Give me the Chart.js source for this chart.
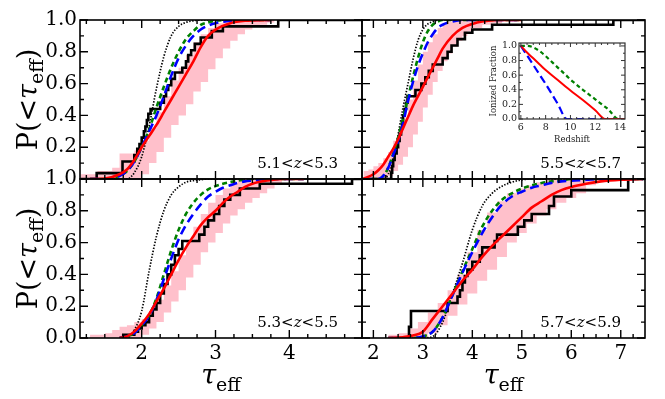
<!DOCTYPE html>
<html>
<head>
<meta charset="utf-8">
<script src="https://cdn.jsdelivr.net/npm/chart.js@4.4.0/dist/chart.umd.min.js"></script>
<style>
  body { margin: 0; background: #fff; }
  #wrap { position: relative; width: 665px; height: 399px; background: #fff; }
  #wrap canvas { position: absolute; left: 0; top: 0; }
</style>
</head>
<body>
<div id="wrap">
  <canvas id="pA" width="665" height="399"></canvas>
  <canvas id="pB" width="665" height="399"></canvas>
  <canvas id="pC" width="665" height="399"></canvas>
  <canvas id="pD" width="665" height="399"></canvas>
  <canvas id="ins" width="665" height="399"></canvas>
</div>
<script>
// ---- 5.1 < z < 5.3 (top left)
const bandTauA = [1.17, 1.4, 1.6, 1.7, 1.8, 1.9, 2.0, 2.1, 2.2, 2.3, 2.4, 2.5, 2.6, 2.7, 2.8, 2.9, 3.0, 3.1, 3.2, 3.3, 3.4, 3.5, 3.6, 3.7, 3.8];
const bandHiA = [0.03, 0.05, 0.07, 0.16, 0.16, 0.18, 0.24, 0.32, 0.42, 0.52, 0.62, 0.7, 0.78, 0.86, 0.91, 0.95, 0.98, 1, 1, 1, 1, 1, 1, 1, 1];
const bandLoA = [0, 0, 0, 0, 0, 0, 0.03, 0.1, 0.17, 0.26, 0.34, 0.4, 0.47, 0.55, 0.61, 0.69, 0.76, 0.82, 0.87, 0.91, 0.94, 0.96, 0.97, 0.985, 1];
const tauA = [1.3, 1.5, 1.7, 1.8, 1.9, 2.0, 2.1, 2.2, 2.3, 2.4, 2.5, 2.6, 2.7, 2.8, 2.9, 3.0, 3.2, 3.4, 3.75];
const redA = [0, 0.003, 0.03, 0.06, 0.12, 0.2, 0.27, 0.34, 0.42, 0.5, 0.58, 0.66, 0.74, 0.83, 0.9, 0.94, 0.98, 0.995, 1];
const blueA = [0, 0, 0.02, 0.05, 0.11, 0.2, 0.3, 0.4, 0.52, 0.65, 0.76, 0.84, 0.9, 0.94, 0.965, 0.98, 0.995, 1, 1];
const greenA = [0, 0, 0.02, 0.05, 0.11, 0.2, 0.31, 0.45, 0.58, 0.7, 0.8, 0.88, 0.93, 0.97, 0.985, 0.995, 1, 1, 1];
const dotA = [0, 0, 0, 0, 0.04, 0.14, 0.33, 0.57, 0.77, 0.9, 0.96, 0.985, 0.995, 1, 1, 1, 1, 1, 1];
const obsTauA = [1.17, 1.39, 1.74, 1.9, 1.94, 1.97, 2.0, 2.03, 2.05, 2.07, 2.09, 2.12, 2.25, 2.3, 2.33, 2.36, 2.4, 2.45, 2.55, 2.6, 2.63, 2.67, 2.72, 2.8, 2.95, 3.1, 3.85, 4.98];
const obsA = [0, 0.037, 0.11, 0.15, 0.19, 0.22, 0.26, 0.3, 0.33, 0.37, 0.41, 0.44, 0.48, 0.52, 0.56, 0.59, 0.63, 0.67, 0.7, 0.74, 0.78, 0.81, 0.85, 0.89, 0.93, 0.96, 1, 1];

// ---- 5.5 < z < 5.7 (top right)
const bandTauB = [1.8, 1.9, 2.0, 2.1, 2.2, 2.3, 2.4, 2.5, 2.6, 2.7, 2.8, 2.9, 3.0, 3.1, 3.2, 3.3, 3.4, 3.5, 3.6, 3.7, 3.8, 3.9, 4.0, 4.2, 4.4, 4.6, 4.9];
const bandHiB = [0.05, 0.06, 0.08, 0.1, 0.13, 0.17, 0.24, 0.3, 0.38, 0.5, 0.62, 0.72, 0.8, 0.86, 0.91, 0.95, 0.97, 0.99, 1, 1, 1, 1, 1, 1, 1, 1, 1];
const bandLoB = [0, 0, 0, 0, 0, 0.02, 0.05, 0.09, 0.14, 0.2, 0.28, 0.36, 0.45, 0.53, 0.61, 0.68, 0.74, 0.79, 0.83, 0.87, 0.9, 0.93, 0.95, 0.97, 0.98, 0.99, 1];
const tauB = [1.8, 2.0, 2.1, 2.2, 2.3, 2.4, 2.5, 2.6, 2.7, 2.8, 2.9, 3.0, 3.1, 3.2, 3.3, 3.4, 3.6, 3.8, 4.0, 4.2, 4.5, 5.0];
const redB = [0, 0.03, 0.055, 0.09, 0.14, 0.19, 0.25, 0.32, 0.39, 0.46, 0.52, 0.58, 0.64, 0.7, 0.76, 0.82, 0.9, 0.95, 0.975, 0.99, 1, 1];
const blueB = [0, 0, 0, 0.02, 0.07, 0.15, 0.24, 0.35, 0.49, 0.61, 0.71, 0.79, 0.86, 0.91, 0.95, 0.97, 0.99, 1, 1, 1, 1, 1];
const greenB = [0, 0, 0, 0.02, 0.07, 0.16, 0.26, 0.38, 0.51, 0.64, 0.76, 0.86, 0.93, 0.97, 0.99, 1, 1, 1, 1, 1, 1, 1];
const dotB = [0, 0, 0, 0, 0.03, 0.12, 0.28, 0.45, 0.6, 0.75, 0.87, 0.94, 0.975, 0.99, 1, 1, 1, 1, 1, 1, 1, 1];
const obsTauB = [1.77, 2.36, 2.38, 2.4, 2.43, 2.47, 2.5, 2.53, 2.56, 2.58, 2.6, 2.63, 2.66, 2.69, 2.85, 2.97, 3.05, 3.12, 3.2, 3.4, 3.5, 3.58, 3.7, 3.85, 4.0, 4.4, 6.85, 7.49];
const obsB = [0, 0.04, 0.08, 0.12, 0.16, 0.2, 0.24, 0.28, 0.32, 0.36, 0.4, 0.44, 0.48, 0.52, 0.56, 0.6, 0.64, 0.68, 0.72, 0.76, 0.8, 0.84, 0.88, 0.92, 0.94, 0.97, 1, 1];

// ---- 5.3 < z < 5.5 (bottom left)
const bandTauC = [1.3, 1.4, 1.5, 1.6, 1.7, 1.8, 1.9, 2.0, 2.1, 2.2, 2.3, 2.4, 2.5, 2.6, 2.7, 2.8, 2.9, 3.0, 3.1, 3.2, 3.3, 3.4, 3.5, 3.6, 3.7, 3.8, 3.9];
const bandHiC = [0.02, 0.02, 0.03, 0.05, 0.07, 0.08, 0.1, 0.12, 0.17, 0.24, 0.33, 0.42, 0.52, 0.61, 0.7, 0.78, 0.85, 0.9, 0.94, 0.97, 1, 1, 1, 1, 1, 1, 1];
const bandLoC = [0, 0, 0, 0, 0, 0, 0, 0.02, 0.06, 0.1, 0.16, 0.23, 0.3, 0.38, 0.46, 0.54, 0.6, 0.66, 0.72, 0.77, 0.81, 0.85, 0.88, 0.91, 0.94, 0.97, 1];
const tauC = [1.7, 1.8, 1.9, 2.0, 2.1, 2.2, 2.3, 2.4, 2.5, 2.6, 2.7, 2.8, 2.9, 3.0, 3.1, 3.2, 3.3, 3.4, 3.5, 3.7, 3.9, 4.2];
const redC = [0, 0.01, 0.04, 0.09, 0.15, 0.23, 0.31, 0.4, 0.49, 0.57, 0.64, 0.71, 0.76, 0.8, 0.85, 0.89, 0.92, 0.95, 0.97, 0.99, 1, 1];
const blueC = [0, 0.01, 0.03, 0.08, 0.14, 0.24, 0.37, 0.5, 0.62, 0.71, 0.78, 0.84, 0.89, 0.92, 0.945, 0.96, 0.975, 0.985, 0.99, 1, 1, 1];
const greenC = [0, 0.01, 0.03, 0.08, 0.14, 0.25, 0.4, 0.55, 0.68, 0.78, 0.85, 0.9, 0.935, 0.955, 0.97, 0.98, 0.99, 0.995, 1, 1, 1, 1];
const dotC = [0, 0, 0.05, 0.17, 0.42, 0.64, 0.8, 0.9, 0.95, 0.98, 0.99, 0.995, 1, 1, 1, 1, 1, 1, 1, 1, 1, 1];
const obsTauC = [1.71, 1.75, 1.9, 1.95, 2.0, 2.05, 2.1, 2.15, 2.2, 2.25, 2.3, 2.35, 2.4, 2.45, 2.5, 2.55, 2.78, 2.85, 2.9, 2.98, 3.05, 3.12, 3.2, 3.33, 3.6, 4.85, 4.98];
const obsC = [0, 0.02, 0.04, 0.06, 0.08, 0.1, 0.14, 0.18, 0.22, 0.28, 0.34, 0.4, 0.46, 0.52, 0.56, 0.61, 0.65, 0.7, 0.74, 0.78, 0.83, 0.87, 0.9, 0.94, 0.97, 1, 1];

// ---- 5.7 < z < 5.9 (bottom right)
const bandTauD = [2.3, 2.5, 2.7, 2.9, 3.1, 3.3, 3.5, 3.7, 3.9, 4.1, 4.3, 4.5, 4.7, 4.9, 5.1, 5.3, 5.5, 5.7, 5.9, 6.1, 6.3, 6.5];
const bandHiD = [0.02, 0.03, 0.06, 0.1, 0.16, 0.22, 0.3, 0.4, 0.54, 0.68, 0.79, 0.86, 0.91, 0.94, 0.96, 0.98, 1, 1, 1, 1, 1, 1];
const bandLoD = [0, 0, 0, 0, 0.03, 0.08, 0.14, 0.21, 0.28, 0.36, 0.43, 0.51, 0.6, 0.66, 0.72, 0.77, 0.81, 0.85, 0.88, 0.91, 0.96, 1];
const tauD = [2.3, 2.6, 2.8, 3.0, 3.2, 3.4, 3.6, 3.8, 4.0, 4.2, 4.4, 4.6, 4.8, 5.0, 5.2, 5.4, 5.6, 5.8, 6.0, 6.3, 6.6, 7.0, 7.45];
const redD = [0, 0.005, 0.015, 0.04, 0.12, 0.2, 0.28, 0.36, 0.43, 0.51, 0.58, 0.64, 0.7, 0.76, 0.82, 0.86, 0.9, 0.93, 0.95, 0.97, 0.985, 0.995, 1];
const blueD = [0, 0, 0, 0.01, 0.04, 0.13, 0.27, 0.41, 0.54, 0.66, 0.76, 0.84, 0.89, 0.92, 0.945, 0.96, 0.975, 0.985, 0.99, 0.995, 1, 1, 1];
const greenD = [0, 0, 0, 0.01, 0.04, 0.13, 0.27, 0.42, 0.56, 0.7, 0.8, 0.87, 0.91, 0.94, 0.96, 0.975, 0.985, 0.99, 1, 1, 1, 1, 1];
const dotD = [0, 0, 0, 0, 0.01, 0.1, 0.28, 0.47, 0.68, 0.83, 0.91, 0.955, 0.98, 0.995, 1, 1, 1, 1, 1, 1, 1, 1, 1];
const obsTauD = [2.67, 2.72, 2.76, 3.5, 3.7, 3.75, 3.8, 3.85, 3.9, 4.0, 4.15, 4.2, 4.45, 4.5, 4.92, 5.05, 5.2, 5.55, 5.65, 6.0, 7.15, 7.49];
const obsD = [0, 0.07, 0.17, 0.22, 0.26, 0.3, 0.35, 0.39, 0.43, 0.48, 0.52, 0.57, 0.61, 0.65, 0.7, 0.74, 0.78, 0.83, 0.89, 0.93, 1, 1];

// ---- inset: ionized fraction vs redshift
const zIon = [6, 6.5, 7, 7.5, 8, 9, 9.7, 10, 11, 12, 12.8, 13, 13.9, 14.4];
const ionRed = [1, 0.91, 0.83, 0.75, 0.67, 0.53, 0.43, 0.39, 0.26, 0.12, 0, 0, 0, 0];
const ionBlue = [1, 0.87, 0.74, 0.61, 0.48, 0.2, 0, 0, 0, 0, 0, 0, 0, 0];
const ionGreen = [1, 1, 0.98, 0.93, 0.86, 0.7, 0.59, 0.54, 0.4, 0.27, 0.165, 0.14, 0, 0];

const SERIF = '"DejaVu Serif"';
const pts = (xs, ys) => xs.map((x, i) => ({ x: x, y: ys[i] }));

function ticksBetween(a, b, step, skip) {
  const out = [];
  for (let v = a; v <= b + 1e-9; v += step) {
    const r = Math.round(v * 1000) / 1000;
    if (!skip || Math.abs(r / skip - Math.round(r / skip)) > 1e-6) out.push(r);
  }
  return out;
}

function drawRuns(ctx, t) {
  ctx.save();
  ctx.translate(t.x, t.y);
  if (t.rot) ctx.rotate(t.rot);
  ctx.textBaseline = "alphabetic";
  ctx.textAlign = "left";
  ctx.fillStyle = t.color || "#000";
  let w = 0;
  for (const r of t.runs) { ctx.font = r.font; w += ctx.measureText(r.s).width; }
  let x = t.align === "right" ? -w : t.align === "center" ? -w / 2 : 0;
  for (const r of t.runs) {
    ctx.font = r.font;
    ctx.fillText(r.s, x, r.dy || 0);
    x += ctx.measureText(r.s).width;
  }
  ctx.restore();
}

// frame, inward ticks on all sides, and the mixed-font labels
const deco = {
  id: "deco",
  beforeDraw(chart, args, o) {
    if (!o || !o.bg) return;
    const a = chart.chartArea, ctx = chart.ctx;
    ctx.save();
    ctx.fillStyle = "#fff";
    ctx.fillRect(a.left, a.top, a.right - a.left, a.bottom - a.top);
    ctx.restore();
  },
  afterDraw(chart, args, o) {
    if (!o || !o.xMajor) return;
    const ctx = chart.ctx, a = chart.chartArea;
    const sx = chart.scales.x, sy = chart.scales.y;
    ctx.save();
    ctx.strokeStyle = o.color || "#000";
    ctx.lineWidth = o.tickW;
    ctx.beginPath();
    [[o.xMajor, o.majLen], [o.xMinor, o.minLen]].forEach(([vals, len]) => {
      vals.forEach(v => {
        if (v < sx.min || v > sx.max) return;
        const p = sx.getPixelForValue(v);
        ctx.moveTo(p, a.bottom); ctx.lineTo(p, a.bottom - len);
        ctx.moveTo(p, a.top); ctx.lineTo(p, a.top + len);
      });
    });
    [[o.yMajor, o.majLen], [o.yMinor, o.minLen]].forEach(([vals, len]) => {
      vals.forEach(v => {
        const p = sy.getPixelForValue(v);
        ctx.moveTo(a.left, p); ctx.lineTo(a.left + len, p);
        ctx.moveTo(a.right, p); ctx.lineTo(a.right - len, p);
      });
    });
    ctx.stroke();
    ctx.lineWidth = o.frameW;
    ctx.strokeRect(a.left, a.top, a.right - a.left, a.bottom - a.top);
    ctx.restore();
    (o.texts || []).forEach(t => drawRuns(ctx, t));
  }
};
Chart.register(deco);

function curve(xs, ys, color, dash, width) {
  return {
    data: pts(xs, ys), borderColor: color, borderWidth: width, borderDash: dash,
    pointRadius: 0, fill: false, cubicInterpolationMode: "monotone"
  };
}

function panel(id, o) {
  const cx = (o.left + o.right) / 2, cy = (o.top + o.bottom) / 2;
  const texts = [{
    x: o.right - 24, y: o.bottom - 11, align: "right",
    runs: [
      { s: o.zr[0] + "<", font: "15px " + SERIF },
      { s: "z", font: "italic 15px " + SERIF },
      { s: "<" + o.zr[1], font: "15px " + SERIF }
    ]
  }];
  if (o.yLabels) texts.push({
    x: 37, y: cy, rot: -Math.PI / 2, align: "center",
    runs: [
      { s: "P(<", font: "27px " + SERIF },
      { s: "τ", font: "italic 27px " + SERIF },
      { s: "eff", font: "19px " + SERIF, dy: 6 },
      { s: ")", font: "27px " + SERIF }
    ]
  });
  if (o.xLabels) texts.push({
    x: cx, y: 384, align: "center",
    runs: [
      { s: "τ", font: "italic 27px " + SERIF },
      { s: "eff", font: "19px " + SERIF, dy: 7 }
    ]
  });
  new Chart(document.getElementById(id), {
    type: "line",
    data: {
      datasets: [
        curve(o.tau, o.red, "#ff0000", [], 2.6),
        curve(o.tau, o.blue, "#0000ff", [9, 5], 2.6),
        curve(o.tau, o.green, "#008000", [5, 3.5], 2.6),
        curve(o.tau, o.dot, "#000000", [1.4, 1.6], 1.7),
        { data: pts(o.obsTau, o.obs), stepped: true, borderColor: "#000", borderWidth: 2.6, pointRadius: 0, fill: false },
        { data: pts(o.bandTau, o.bandHi), stepped: true, borderColor: "rgba(0,0,0,0)", borderWidth: 1, pointRadius: 0, fill: "+1", backgroundColor: "#ffc0cb" },
        { data: pts(o.bandTau, o.bandLo), stepped: true, borderColor: "rgba(0,0,0,0)", borderWidth: 1, pointRadius: 0, fill: false }
      ]
    },
    options: {
      responsive: false, animation: false, events: [],
      layout: {
        padding: {
          left: o.yLabels ? 0 : o.left,
          top: o.top,
          right: 665 - o.right,
          bottom: 399 - o.bottom - (o.xLabels ? 30 : 0)
        }
      },
      plugins: {
        legend: { display: false },
        tooltip: { enabled: false },
        deco: {
          xMajor: o.xMajor, xMinor: ticksBetween(Math.floor(o.xMin), Math.ceil(o.xMax), 0.25, 1),
          yMajor: [0, 0.2, 0.4, 0.6, 0.8, 1], yMinor: [0.1, 0.3, 0.5, 0.7, 0.9],
          majLen: 8, minLen: 4, tickW: 1.4, frameW: 1.6, texts: texts
        }
      },
      scales: {
        x: {
          type: "linear", min: o.xMin, max: o.xMax,
          grid: { display: false, drawTicks: false }, border: { display: false },
          ticks: {
            display: o.xLabels, stepSize: 1, includeBounds: false, padding: 4, maxRotation: 0,
            color: "#000", font: { family: "DejaVu Serif", size: 20 }
          },
          afterFit(s) { s.height = o.xLabels ? 30 : 0; }
        },
        y: {
          type: "linear", min: 0, max: 1,
          grid: { display: false, drawTicks: false }, border: { display: false },
          ticks: {
            display: o.yLabels, stepSize: 0.2, includeBounds: false, padding: 3,
            color: "#000", font: { family: "DejaVu Serif", size: 20 },
            callback: v => (o.hideZero && v < 0.01) ? "" : v.toFixed(1)
          },
          afterFit(s) { s.width = o.yLabels ? o.left : 0; }
        }
      }
    }
  });
}

panel("pA", {
  left: 80, right: 362, top: 20, bottom: 179, xMin: 1.164, xMax: 4.985, xMajor: [2, 3, 4],
  yLabels: true, xLabels: false, hideZero: true, zr: ["5.1", "5.3"],
  bandTau: bandTauA, bandHi: bandHiA, bandLo: bandLoA,
  tau: tauA, red: redA, blue: blueA, green: greenA, dot: dotA, obsTau: obsTauA, obs: obsA
});
panel("pB", {
  left: 362, right: 645, top: 20, bottom: 179, xMin: 1.77, xMax: 7.49, xMajor: [2, 3, 4, 5, 6, 7],
  yLabels: false, xLabels: false, hideZero: true, zr: ["5.5", "5.7"],
  bandTau: bandTauB, bandHi: bandHiB, bandLo: bandLoB,
  tau: tauB, red: redB, blue: blueB, green: greenB, dot: dotB, obsTau: obsTauB, obs: obsB
});
panel("pC", {
  left: 80, right: 362, top: 179, bottom: 338, xMin: 1.164, xMax: 4.985, xMajor: [2, 3, 4],
  yLabels: true, xLabels: true, hideZero: false, zr: ["5.3", "5.5"],
  bandTau: bandTauC, bandHi: bandHiC, bandLo: bandLoC,
  tau: tauC, red: redC, blue: blueC, green: greenC, dot: dotC, obsTau: obsTauC, obs: obsC
});
panel("pD", {
  left: 362, right: 645, top: 179, bottom: 338, xMin: 1.77, xMax: 7.49, xMajor: [2, 3, 4, 5, 6, 7],
  yLabels: false, xLabels: true, hideZero: false, zr: ["5.7", "5.9"],
  bandTau: bandTauD, bandHi: bandHiD, bandLo: bandLoD,
  tau: tauD, red: redD, blue: blueD, green: greenD, dot: dotD, obsTau: obsTauD, obs: obsD
});

// inset
new Chart(document.getElementById("ins"), {
  type: "line",
  data: {
    datasets: [
      curve(zIon, ionRed, "#ff0000", [], 2),
      curve(zIon, ionBlue, "#0000ff", [8, 4], 2.2),
      curve(zIon, ionGreen, "#008000", [4, 3], 2.2)
    ]
  },
  options: {
    responsive: false, animation: false, events: [],
    layout: { padding: { left: 495, top: 43, right: 40, bottom: 399 - 119 - 15 } },
    plugins: {
      legend: { display: false },
      tooltip: { enabled: false },
      deco: {
        bg: true, color: "#333",
        xMajor: [6, 8, 10, 12, 14], xMinor: ticksBetween(6, 14, 0.5, 2),
        yMajor: [0, 0.2, 0.4, 0.6, 0.8, 1], yMinor: [0.1, 0.3, 0.5, 0.7, 0.9],
        majLen: 4, minLen: 2, tickW: 1, frameW: 1.2,
        texts: [
          { x: 496, y: 81, rot: -Math.PI / 2, align: "center", color: "#222", runs: [{ s: "Ionized Fraction", font: "8.5px " + SERIF }] },
          { x: 572, y: 142, align: "center", color: "#222", runs: [{ s: "Redshift", font: "8.5px " + SERIF }] }
        ]
      }
    },
    scales: {
      x: {
        type: "linear", min: 5.85, max: 14.4,
        grid: { display: false, drawTicks: false }, border: { display: false },
        ticks: { stepSize: 2, includeBounds: false, padding: 3, maxRotation: 0, color: "#222", font: { family: "DejaVu Serif", size: 9.5 } },
        afterFit(s) { s.height = 15; }
      },
      y: {
        type: "linear", min: 0, max: 1.04,
        grid: { display: false, drawTicks: false }, border: { display: false },
        ticks: { stepSize: 0.2, includeBounds: false, padding: 2, color: "#222", font: { family: "DejaVu Serif", size: 9.5 }, callback: v => v.toFixed(1) },
        afterFit(s) { s.width = 24; }
      }
    }
  }
});
</script>
</body>
</html>
